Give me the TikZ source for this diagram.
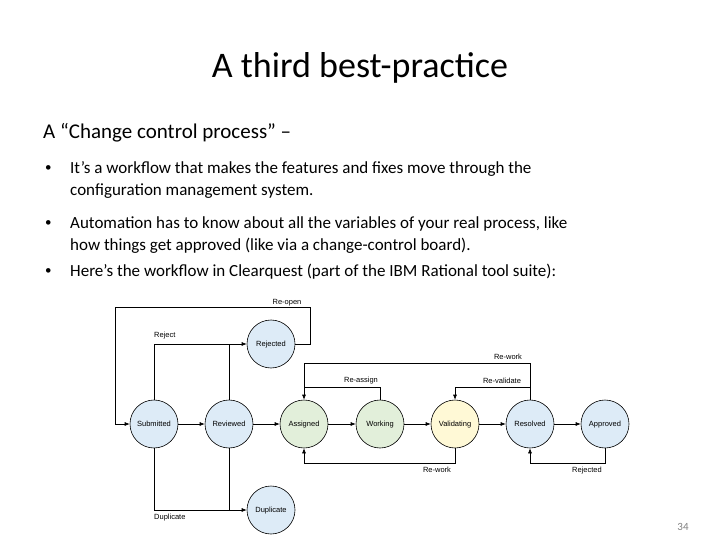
\documentclass[tikz,border=0pt]{standalone}
\usepackage{fontspec}
\setmainfont{Carlito}
\newfontfamily\diag{Liberation Sans}
\usetikzlibrary{arrows.meta}
\definecolor{cblue}{HTML}{DDEBF7}
\definecolor{cgreen}{HTML}{E2EFDA}
\definecolor{cyellow}{HTML}{FFF9D6}
\tikzset{
 st/.style={circle,draw=black,line width=0.6pt,minimum size=48pt,inner sep=0pt,text height=5.5pt,text depth=1.5pt,font=\diag\fontsize{7.5}{8}\selectfont},
 ln/.style={draw=black,line width=0.6pt},
 ar/.style={ln,-{Latex[length=5pt,width=4pt]}},
 lb/.style={font=\diag\fontsize{7.5}{8}\selectfont,inner sep=1pt},
 bl/.style={anchor=west,font=\fontsize{17}{20}\selectfont,inner sep=0pt},
 bu/.style={anchor=west,font=\fontsize{13}{20}\selectfont,inner sep=0pt}
}
\begin{document}
\begin{tikzpicture}[x=1pt,y=-1pt]
\useasboundingbox (0,0) rectangle (720,540);
\node (title) at (360,68) {\fontsize{36}{40}\selectfont A third best-practice};
\node[anchor=west,inner sep=0pt,font=\fontsize{21}{24}\selectfont] (head) at (43,133) {A “Change control process” –};
\node[bu] (b1) at (45,169) {•};
\node[bl] (t1a) at (70,169) {It’s a workflow that makes the features and fixes move through the};
\node[bl] (t1b) at (70,191) {configuration management system.};
\node[bu] (b2) at (45,224) {•};
\node[bl] (t2a) at (70,224) {Automation has to know about all the variables of your real process, like};
\node[bl] (t2b) at (70,246) {how things get approved (like via a change-control board).};
\node[bu] (b3) at (45,272) {•};
\node[bl] (t3a) at (70,272) {Here’s the workflow in Clearquest (part of the IBM Rational tool suite):};
\node[font=\fontsize{11}{12}\selectfont,text=gray] (pg) at (683,527) {34};

\node[st,fill=cblue] (sub) at (154,424) {Submitted};
\node[st,fill=cblue] (rev) at (229,424) {Reviewed};
\node[st,fill=cgreen] (asg) at (304,424) {Assigned};
\node[st,fill=cgreen] (wrk) at (380,424) {Working};
\node[st,fill=cyellow] (val) at (455,424) {Validating};
\node[st,fill=cblue] (res) at (530,424) {Resolved};
\node[st,fill=cblue] (app) at (605,424) {Approved};
\node[st,fill=cblue] (rej) at (271,344) {Rejected};
\node[st,fill=cblue] (dup) at (271,510) {Duplicate};

\draw[ar] (sub) -- (rev);
\draw[ar] (rev) -- (asg);
\draw[ar] (asg) -- (wrk);
\draw[ar] (wrk) -- (val);
\draw[ar] (val) -- (res);
\draw[ar] (res) -- (app);

\coordinate (ro1) at (310,344);
\coordinate (ro2) at (310,307);
\coordinate (ro3) at (115,307);
\coordinate (ro4) at (115,424);
\draw[ar] (rej.east) -- (ro1) -- (ro2) -- (ro3) -- (ro4) -- (sub.west);
\node[lb,anchor=south] (lreo) at (287,307) {Re-open};

\draw[ar] (sub.north) |- (rej.west);
\draw[ln] (rev.north) -- (rev.north |- rej.west);
\node[lb,anchor=south west] (lrej) at (153,340) {Reject};

\draw[ar] (sub.south) |- (dup.west);
\draw[ln] (rev.south) -- (rev.south |- dup.west);
\node[lb,anchor=north west] (ldup) at (153,513) {Duplicate};

\coordinate (rw1) at (530,363);
\coordinate (rw2) at (304,363);
\draw[ar] (res.north) -- (rw1) -- (rw2) -- (asg.north);
\node[lb,anchor=south] (lrw1) at (508,361) {Re-work};

\coordinate (ra1) at (380,387);
\coordinate (ra2) at (304,387);
\draw[ln] (wrk.north) -- (ra1) -- (ra2);
\node[lb,anchor=south] (lra) at (361,385) {Re-assign};

\coordinate (rv1) at (530,387);
\coordinate (rv2) at (455,387);
\draw[ar] (rv1) -- (rv2) -- (val.north);
\node[lb,anchor=south] (lrv) at (502,385) {Re-validate};

\coordinate (rb1) at (455,463);
\coordinate (rb2) at (304,463);
\draw[ar] (val.south) -- (rb1) -- (rb2) -- (asg.south);
\node[lb,anchor=north] (lrb) at (437,466) {Re-work};

\coordinate (ap1) at (605,463);
\coordinate (ap2) at (530,463);
\draw[ar] (app.south) -- (ap1) -- (ap2) -- (res.south);
\node[lb,anchor=north] (lap) at (587,466) {Rejected};
\end{tikzpicture}
\end{document}
